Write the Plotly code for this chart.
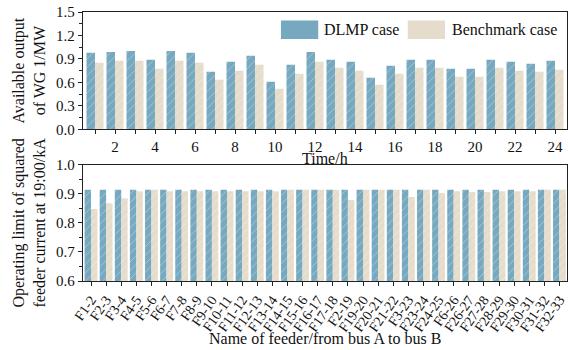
import plotly.graph_objects as go
from plotly.subplots import make_subplots

hours = list(range(1, 25))
wg_dlmp = [0.979, 0.99, 1.0, 0.889, 1.0, 0.979, 0.735, 0.863, 0.94, 0.607, 0.825, 0.99,
           0.889, 0.863, 0.658, 0.812, 0.889, 0.889, 0.774, 0.774, 0.889, 0.863, 0.838, 0.876]
wg_bench = [0.85, 0.876, 0.876, 0.774, 0.876, 0.85, 0.632, 0.748, 0.825, 0.517, 0.709, 0.863,
            0.786, 0.748, 0.568, 0.709, 0.786, 0.786, 0.671, 0.671, 0.786, 0.748, 0.735, 0.761]

feeders = ["F1-2", "F2-3", "F3-4", "F4-5", "F5-6", "F6-7", "F7-8", "F8-9", "F9-10", "F10-11",
           "F11-12", "F12-13", "F13-14", "F14-15", "F15-16", "F16-17", "F17-18", "F2-19",
           "F19-20", "F20-21", "F21-22", "F3-23", "F23-24", "F24-25", "F6-26", "F26-27",
           "F27-28", "F28-29", "F29-30", "F30-31", "F31-32", "F32-33"]
lim_dlmp = [0.914] * 32
lim_bench = [0.848, 0.868, 0.885, 0.909, 0.914, 0.909, 0.909, 0.909, 0.909, 0.909,
             0.909, 0.909, 0.909, 0.914, 0.914, 0.914, 0.914, 0.8785,
             0.914, 0.914, 0.914, 0.889, 0.914, 0.903, 0.909, 0.906,
             0.906, 0.909, 0.909, 0.909, 0.914, 0.914]

C_DLMP = "#76a9bf"
C_BENCH = "#e5dccb"
FONT = "Liberation Serif"

def pat(c):
    return dict(shape="/", fgcolor="rgba(255,255,255,0.45)", bgcolor=c, size=6,
                solidity=0.12, fillmode="replace")

fig = make_subplots(rows=2, cols=1)

fig.add_trace(go.Bar(x=hours, y=wg_dlmp, name="DLMP case",
                     marker=dict(color=C_DLMP, pattern=pat(C_DLMP), line=dict(width=0)),
                     showlegend=False), row=1, col=1)
fig.add_trace(go.Bar(x=hours, y=wg_bench, name="Benchmark case",
                     marker=dict(color=C_BENCH, pattern=pat(C_BENCH), line=dict(width=0)),
                     showlegend=False), row=1, col=1)
fig.add_trace(go.Bar(x=feeders, y=lim_dlmp, name="DLMP case",
                     marker=dict(color=C_DLMP, pattern=pat(C_DLMP), line=dict(width=0)),
                     showlegend=False), row=2, col=1)
fig.add_trace(go.Bar(x=feeders, y=lim_bench, name="Benchmark case",
                     marker=dict(color=C_BENCH, pattern=pat(C_BENCH), line=dict(width=0)),
                     showlegend=False), row=2, col=1)

axcommon = dict(showline=True, linecolor="#222", linewidth=1.3, mirror=True,
                ticks="outside", tickcolor="#222", tickwidth=1.2, ticklen=4,
                showgrid=False, zeroline=False, automargin=False,
                ticklabeloverflow="allow",
                tickfont=dict(family=FONT, size=15, color="#111"))

fig.update_xaxes(**axcommon)
fig.update_yaxes(**axcommon)

fig.update_xaxes(row=1, col=1, range=[0.4, 24.6], tickmode="array", tickvals=hours,
                 ticktext=[str(h) if h % 2 == 0 else "" for h in hours])
fig.update_xaxes(row=2, col=1, range=[-0.53, 31.5], tickangle=-55, tickmode="array",
                 tickvals=feeders, ticktext=feeders,
                 tickfont=dict(family=FONT, size=14, color="#111"))
fig.update_yaxes(row=1, col=1, range=[0, 1.5], dtick=0.3, tickformat=".1f",
                 domain=[0.564, 1.0],
                 minor=dict(dtick=0.15, ticks="outside", ticklen=3, tickcolor="#222"),
                 title=dict(text="Available output<br>of WG 1/MW", standoff=6,
                            font=dict(family=FONT, size=16, color="#111")))
fig.update_yaxes(row=2, col=1, range=[0.6, 1.0], dtick=0.1, tickformat=".1f",
                 domain=[0.0, 0.432],
                 minor=dict(dtick=0.05, ticks="outside", ticklen=3, tickcolor="#222"),
                 title=dict(text="Operating limit of squared<br>feeder current at 19:00/kA",
                            standoff=6, font=dict(family=FONT, size=16, color="#111")))

# legend drawn in top panel (paper coords)
leg = [(0.409, 0.486, 0.494, C_DLMP, "DLMP case"),
       (0.671, 0.748, 0.758, C_BENCH, "Benchmark case")]
for x0, x1, xt, c, t in leg:
    fig.add_shape(type="rect", xref="paper", yref="paper", x0=x0, x1=x1, y0=0.900, y1=0.968,
                  fillcolor=c, line=dict(width=0))
    fig.add_annotation(xref="paper", yref="paper", x=xt, y=0.934, text=t, showarrow=False,
                       xanchor="left", yanchor="middle",
                       font=dict(family=FONT, size=16, color="#111"))

fig.add_annotation(xref="paper", yref="paper", x=0.5, y=0.455, text="Time/h", showarrow=False,
                   xanchor="center", yanchor="middle", font=dict(family=FONT, size=16, color="#111"))
fig.add_annotation(xref="paper", yref="paper", x=0.5, y=-0.212,
                   text="Name of feeder/from bus A to bus B", showarrow=False,
                   xanchor="center", yanchor="middle", font=dict(family=FONT, size=16, color="#111"))

fig.update_layout(width=568, height=350, margin=dict(l=83, r=1, t=12, b=69, autoexpand=False),
                  barmode="group", bargap=0.15, bargroupgap=0,
                  paper_bgcolor="white", plot_bgcolor="white", showlegend=False,
                  font=dict(family=FONT, size=15, color="#111"))
# remove the browser's default 8px page margin so the figure fills the 568x350 window
fig.write_html("out.html", config={"displayModeBar": False},
               post_script="document.body.style.margin='0';")
